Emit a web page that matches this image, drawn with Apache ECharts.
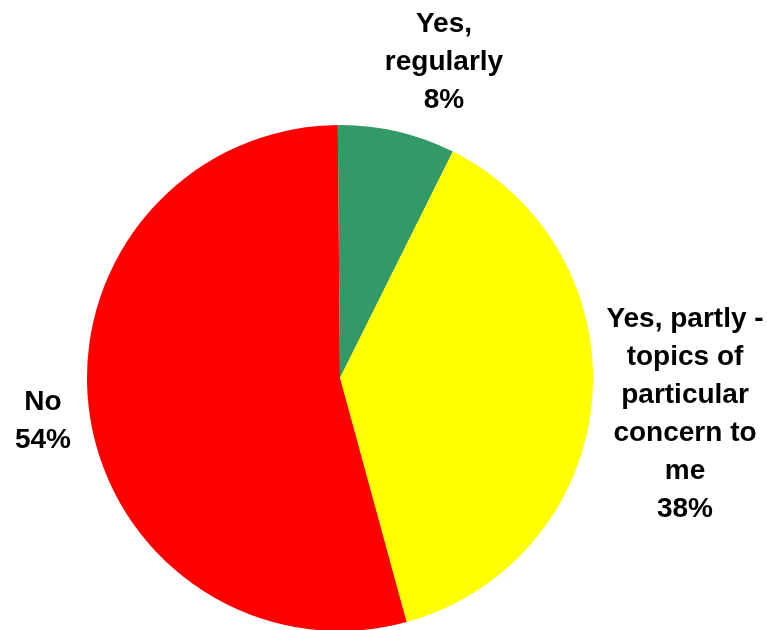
<!DOCTYPE html>
<html>
<head>
<meta charset="utf-8">
<script src="https://cdn.jsdelivr.net/npm/echarts@6/dist/echarts.min.js"></script>
<style>html,body{margin:0;padding:0;background:#fff;}#c{width:767px;height:630px;}</style>
</head>
<body>
<div id="c"></div>
<script>
const categories = ["Yes,\nregularly", "Yes, partly -\ntopics of\nparticular\nconcern to\nme", "No"];
const values = [7.5, 38.4, 54.1];
const colors = ["#339966", "#FFFF00", "#FF0000"];

const labelPos = [[444, 62], [685, 414], [43, 421]];

const chart = echarts.init(document.getElementById('c'));
chart.setOption({
  animation: false,
  series: [{
    type: 'pie',
    center: [340, 378],
    radius: 253,
    startAngle: 90.5,
    clockwise: true,
    percentPrecision: 0,
    data: categories.map((c, i) => ({ name: c, value: values[i], itemStyle: { color: colors[i] } })),
    itemStyle: { borderWidth: 0 },
    label: {
      show: true,
      position: 'outside',
      formatter: '{b}\n{d}%',
      fontFamily: 'Liberation Sans, Arial, sans-serif',
      fontWeight: 'bold',
      fontSize: 28,
      lineHeight: 38,
      color: '#000',
      align: 'center',
      overflow: 'none',
      width: 220
    },
    labelLine: { show: false },
    labelLayout: function (p) {
      const pos = labelPos[p.dataIndex];
      return { x: pos[0], y: pos[1], align: 'center', verticalAlign: 'middle' };
    }
  }]
});
</script>
</body>
</html>
